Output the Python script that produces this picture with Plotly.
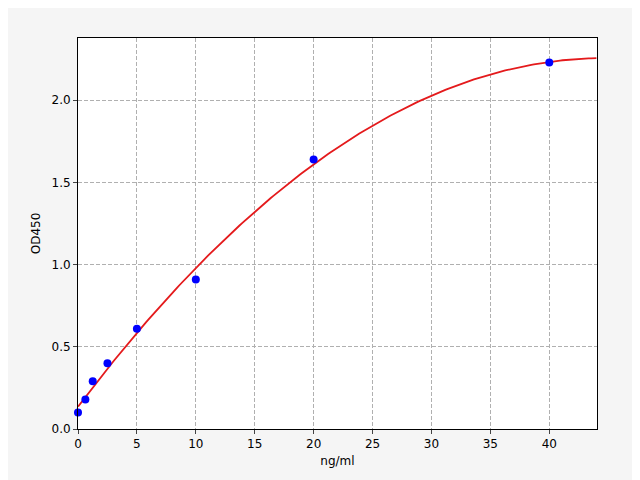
import numpy as np
import plotly.graph_objects as go

conc = [0, 0.625, 1.25, 2.5, 5, 10, 20, 40]
od = [0.10, 0.18, 0.29, 0.40, 0.61, 0.91, 1.64, 2.23]

coef = np.polyfit(conc, od, 2)
xs = np.linspace(0, 44, 200)
ys = np.polyval(coef, xs)

fig = go.Figure()
fig.add_trace(go.Scatter(x=xs, y=ys, mode="lines", line=dict(color="#e41a1c", width=1.8), showlegend=False))
fig.add_trace(go.Scatter(x=conc, y=od, mode="markers", marker=dict(color="#0000ff", size=8), showlegend=False, cliponaxis=False))

ax = dict(showline=True, linecolor="black", mirror=True, ticks="outside", ticklen=4,
          gridcolor="#b0b0b0", griddash="4px,2px", gridwidth=0.8, zeroline=False,
          tickfont=dict(family="DejaVu Sans", size=12, color="black"),
          title_font=dict(family="DejaVu Sans", size=12, color="black"))
fig.update_xaxes(range=[0, 44.05], dtick=5, title_text="ng/ml", title_standoff=6, **ax)
fig.update_yaxes(range=[0, 2.379], dtick=0.5, tickformat=".1f", title_text="OD450", title_standoff=8, **ax)
fig.update_layout(width=632, height=472, margin=dict(l=70, r=43, t=30, b=51),
                  paper_bgcolor="#f5f5f5", plot_bgcolor="white")
fig.write_html("out.html")
